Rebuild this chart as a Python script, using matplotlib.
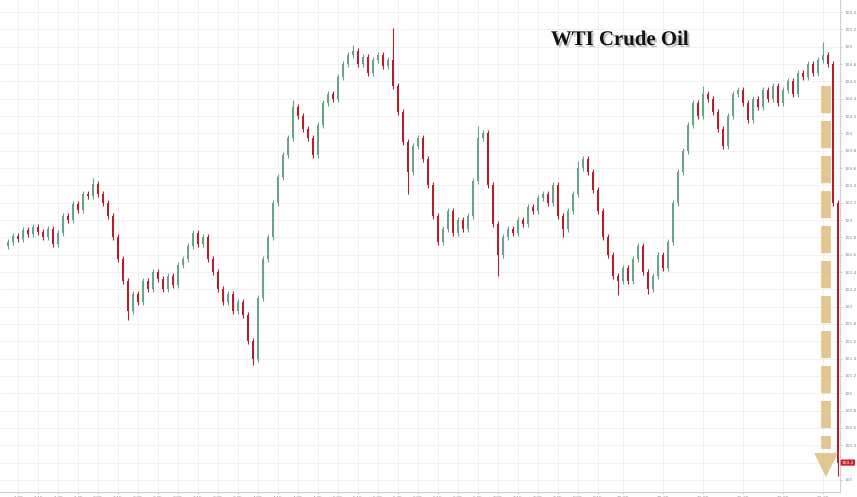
import matplotlib
matplotlib.use("Agg")
import matplotlib.pyplot as plt
import matplotlib.patheffects as pe
import numpy as np

# closing prices, one candle per slot (open = previous close)
closes = [
    102.75, 102.82, 102.78, 102.88, 102.84, 102.92, 102.86, 102.80, 102.90, 102.72,
    102.85, 103.05, 103.00, 103.18, 103.12, 103.30, 103.28, 103.42, 103.30, 103.20,
    103.05, 102.80, 102.55, 102.30, 101.95, 102.15, 102.05, 102.30, 102.20, 102.40,
    102.32, 102.20, 102.35, 102.25, 102.48, 102.55, 102.70, 102.85, 102.72, 102.80,
    102.55, 102.40, 102.20, 102.05, 102.15, 101.95, 102.05, 101.90, 101.60, 101.40,
    102.10, 102.55, 102.80, 103.20, 103.50, 103.75, 103.95, 104.30, 104.20, 104.05,
    103.95, 103.75, 104.10, 104.35, 104.45, 104.40, 104.65, 104.80, 104.90, 104.95,
    104.80, 104.88, 104.70, 104.85, 104.90, 104.78, 104.85, 104.55, 104.25, 103.90,
    103.55, 103.85, 103.95, 103.70, 103.40, 103.05, 102.75, 102.90, 103.10, 102.85,
    103.00, 102.90, 103.05, 103.45, 103.95, 104.00, 103.40, 102.95, 102.60, 102.80,
    102.90, 102.85, 103.00, 102.95, 103.15, 103.10, 103.25, 103.30, 103.20, 103.40,
    103.05, 102.90, 103.10, 103.30, 103.60, 103.70, 103.55, 103.35, 103.10, 102.80,
    102.60, 102.35, 102.30, 102.45, 102.30, 102.55, 102.70, 102.40, 102.20, 102.35,
    102.60, 102.45, 102.75, 103.20, 103.55, 103.80, 104.10, 104.35, 104.20, 104.45,
    104.40, 104.25, 104.05, 103.85, 104.20, 104.45, 104.50, 104.35, 104.15, 104.40,
    104.30, 104.50, 104.40, 104.55, 104.35, 104.50, 104.60, 104.45, 104.70, 104.65,
    104.80, 104.70, 104.85, 104.90, 104.80, 103.20, 100.20,
]
first_open = 102.70

# wicks that stick out further than usual
high_extra = {17: 103.48, 57: 104.38, 69: 105.02, 77: 105.22, 94: 104.08, 114: 103.68, 139: 104.55, 163: 105.05}
low_extra = {24: 101.85, 49: 101.33, 80: 103.30, 98: 102.35, 111: 102.80, 122: 102.14, 128: 102.15, 166: 100.05}

yticks = [round(100 + 0.2 * k, 1) for k in range(28)]
xtick_pos = [2, 6, 10, 14, 18, 22, 26, 30, 34, 38, 42, 46, 50, 54, 58, 62, 66, 70,
             74, 78, 82, 86, 90, 94, 98, 102, 106, 110, 114, 118, 123, 131, 139, 147, 155, 163]
xtick_labels = ["1:00", "1:15", "1:30", "1:45", "2:00", "2:15", "2:30", "2:45", "3:00",
                "3:15", "3:30", "3:45", "4:00", "4:15", "4:30", "4:45", "5:00", "5:15",
                "5:30", "5:45", "6:00", "6:15", "6:30", "6:45", "7:00", "7:15", "7:30",
                "7:45", "8:00", "8:15", "10:00", "10:30", "11:00", "11:30", "12:00", "12:30"]
last_price = 100.2

closes = np.array(closes)
opens = np.concatenate([[first_open], closes[:-1]])
highs = np.maximum(opens, closes) + 0.035
lows = np.minimum(opens, closes) - 0.035
for k, v in high_extra.items():
    highs[k] = v
for k, v in low_extra.items():
    lows[k] = v
idx = np.arange(len(closes))

up_col = "#6aa38c"
down_col = "#b3202c"
colors = [up_col if c >= o else down_col for o, c in zip(opens, closes)]

fig = plt.figure(figsize=(8.57, 4.97), dpi=100)
ax_w = 840
ax = fig.add_axes([0.0, 0.01, ax_w / 857, 0.99])

ax.vlines(idx, lows, highs, colors=colors, lw=0.8, zorder=3)
ax.bar(idx, np.maximum(np.abs(closes - opens), 0.015), bottom=np.minimum(opens, closes),
       width=0.55, color=colors, zorder=4, linewidth=0)

# big dashed arrow
ax_x = 163.6
ax.plot([ax_x, ax_x], [104.55, 100.36], color="#dcb46c", lw=7, alpha=0.75,
        dashes=(2.8, 0.8), solid_capstyle="butt", dash_capstyle="butt", zorder=5)
ax.plot([ax_x], [100.17], marker="v", ms=17, color="#dcb46c", alpha=0.75,
        markeredgewidth=0, zorder=5)

ax.set_xlim(-1.6, ax_w / 5 - 1.6)
ax.set_ylim(99.86, 105.54)

# the last-price box sits on top of the 100.2 tick, so leave that label blank
ax.set_yticks(yticks)
ax.set_yticklabels(["" if v == last_price else f"{v:g}" for v in yticks])
ax.yaxis.tick_right()
ax.tick_params(axis="y", labelsize=3.2, labelcolor="#888888", length=1.5, color="#cccccc", pad=2)
ax.set_xticks(xtick_pos)
ax.set_xticklabels(xtick_labels)
ax.tick_params(axis="x", labelsize=3.2, labelcolor="#888888", length=1.5, color="#cccccc", pad=1)

ax.grid(True, color="#efefef", lw=0.6, zorder=0)
for s in ["top", "left"]:
    ax.spines[s].set_visible(False)
for s in ["right", "bottom"]:
    ax.spines[s].set_color("#d0d0d0")
    ax.spines[s].set_linewidth(0.8)

ax.text(1.002, last_price, f"{last_price:g}", transform=ax.get_yaxis_transform(),
        fontsize=3.2, color="white", va="center", ha="left", zorder=6,
        bbox=dict(boxstyle="round,pad=0.25", fc="#c8232c", ec="none"), clip_on=False)

fig.text(620 / 857, 1 - 40 / 497, "WTI Crude Oil", fontsize=15, fontweight="bold",
         family="Liberation Serif", ha="center", va="center", color="#111111",
         path_effects=[pe.withSimplePatchShadow(offset=(1.5, -1.5), shadow_rgbFace="#999999", alpha=0.6)])

fig.savefig("out.png", dpi=100)
